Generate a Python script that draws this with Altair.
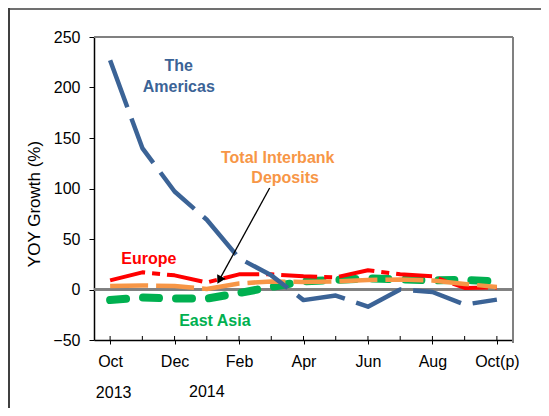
import altair as alt
import pandas as pd

months = ["Oct", "Nov", "Dec", "Jan", "Feb", "Mar", "Apr", "May", "Jun", "Jul", "Aug", "Sep", "Oct(p)"]
americas = [227, 140, 97, 69, 31, 14, -10.5, -6, -17, 0, -2.5, -15, -10]
europe = [9, 17, 14, 7, 15, 15, 13, 12, 19, 15, 13, 1.5, 2]
interbank = [3.5, 4, 3.5, 0.5, 6, 8, 7.5, 8, 9.5, 10, 9, 5.5, 2.5]
east_asia = [-10.5, -8, -9, -9, -3.5, 2.5, 8, 9.5, 11, 10, 9, 9.5, 8]
y_ticks = [-50, 0, 50, 100, 150, 200, 250]

FONT = "Liberation Sans, Arial, sans-serif"
BLUE = "#3B6396"
RED = "#FF0000"
ORANGE = "#F79646"
GREEN = "#00B050"

idx = list(range(len(months)))
series = {
    "The Americas": americas,
    "Europe": europe,
    "Total Interbank Deposits": interbank,
    "East Asia": east_asia,
}
rows = []
for name, vals in series.items():
    for i, v in zip(idx, vals):
        rows.append({"i": i, "month": months[i], "series": name, "value": v})
df = pd.DataFrame(rows)
df_m = pd.DataFrame({"i": idx})

label_js = "[" + ",".join("'" + m + "'" for m in months) + "]"
x_axis = alt.Axis(
    values=idx,
    labelExpr=f"datum.value % 2 == 0 ? {label_js}[datum.value] : ''",
    title=None, grid=False, tickSize=4, tickColor="black", tickWidth=1,
    domainColor="black", domainWidth=1.5, labelFont=FONT, labelFontSize=16,
    labelColor="black", labelPadding=9, labelOverlap=False, labelFlush=False,
)
y_axis = alt.Axis(
    values=y_ticks, title=None, grid=False, tickSize=5, tickColor="black",
    tickWidth=1, domainColor="black", domainWidth=1.5, labelFont=FONT,
    labelFontSize=16, labelColor="black", labelPadding=9,
)
X = alt.X("i:Q", scale=alt.Scale(domain=[-0.5, 12.5], nice=False, zero=False), axis=x_axis)
Y = alt.Y("value:Q", scale=alt.Scale(domain=[-50, 250], nice=False, zero=False), axis=y_axis)

base = alt.Chart(df)

def line(name, color, width, dash, cap="butt"):
    return base.transform_filter(alt.datum.series == name).mark_line(
        color=color, strokeWidth=width, strokeDash=dash, strokeCap=cap, strokeJoin="round"
    ).encode(x=X, y=Y, order="i:Q")

zero = alt.Chart(df_m).mark_rule(color="#808080", strokeWidth=1.5).encode(y=alt.datum(0))
top_border = alt.Chart(df_m).mark_rule(color="#808080", strokeWidth=1.5).encode(
    x=alt.value(0), x2=alt.value(419), y=alt.value(0))
right_border = alt.Chart(df_m).mark_rule(color="#808080", strokeWidth=1.5).encode(
    x=alt.value(419), y=alt.value(0), y2=alt.value(306))
frame_top = alt.Chart(df_m).mark_rule(color="#707070", strokeWidth=1.5).encode(
    x=alt.value(-86), x2=alt.value(447), y=alt.value(-28.2))
frame_left = alt.Chart(df_m).mark_rule(color="#404040", strokeWidth=1.5).encode(
    x=alt.value(-85.2), y=alt.value(-29), y2=alt.value(371))
up_ticks = alt.Chart(df_m).mark_rule(color="black", strokeWidth=1).encode(
    x=alt.X("i:Q"), y=alt.value(299), y2=alt.value(303))

ann = pd.DataFrame([
    {"t": "The", "i": 2.13, "value": 221, "c": BLUE},
    {"t": "Americas", "i": 2.13, "value": 200.5, "c": BLUE},
    {"t": "Total Interbank", "i": 5.2, "value": 130, "c": ORANGE},
    {"t": "Deposits", "i": 5.43, "value": 110, "c": ORANGE},
    {"t": "Europe", "i": 1.2, "value": 30, "c": RED},
    {"t": "East Asia", "i": 3.25, "value": -31, "c": GREEN},
])
ann_text = alt.Chart(ann).mark_text(
    font=FONT, fontSize=16, fontWeight="bold", align="center", baseline="middle"
).encode(x="i:Q", y="value:Q", text="t:N", color=alt.Color("c:N", scale=None))

arrow_df = pd.DataFrame([{"i": 4.95, "value": 100.5, "i2": 3.43, "v2": 12}])
arrow_line = alt.Chart(arrow_df).mark_rule(color="black", strokeWidth=1.3).encode(
    x="i:Q", y="value:Q", x2="i2:Q", y2="v2:Q")
head_df = pd.DataFrame([{"i": 3.41, "value": 10.4}])
arrow_head = alt.Chart(head_df).mark_point(
    shape="triangle", filled=True, color="black", opacity=1, size=90, angle=208.6
).encode(x="i:Q", y="value:Q")

years = pd.DataFrame([{"t": "2013", "i": 0.11, "py": 356}, {"t": "2014", "i": 3.0, "py": 355}])
year_text = alt.Chart(years).mark_text(
    font=FONT, fontSize=16, align="center", baseline="middle", color="black"
).encode(x="i:Q", y=alt.Y("py:Q", scale=None), text="t:N")

title_df = pd.DataFrame([{"t": "YOY Growth (%)"}])
y_title = alt.Chart(title_df).mark_text(
    font=FONT, fontSize=17, align="center", baseline="middle", angle=270, color="black"
).encode(x=alt.value(-59), y=alt.value(167), text="t:N")

chart = alt.layer(
    zero, top_border, right_border, up_ticks,
    line("East Asia", GREEN, 8, [16, 17], "round"),
    line("Europe", RED, 4, [36, 7, 8, 7]),
    line("Total Interbank Deposits", ORANGE, 4.5, [38, 8]),
    line("The Americas", BLUE, 4.5, [50, 12]),
    arrow_line, arrow_head, ann_text, year_text, y_title, frame_top, frame_left,
).properties(
    width=419, height=303,
    autosize=alt.AutoSizeParams(type="none"),
    padding={"left": 86, "top": 29, "right": 28, "bottom": 68},
).configure_view(stroke=None)

chart.save("out.html", embed_options={"renderer": "svg", "actions": False})
